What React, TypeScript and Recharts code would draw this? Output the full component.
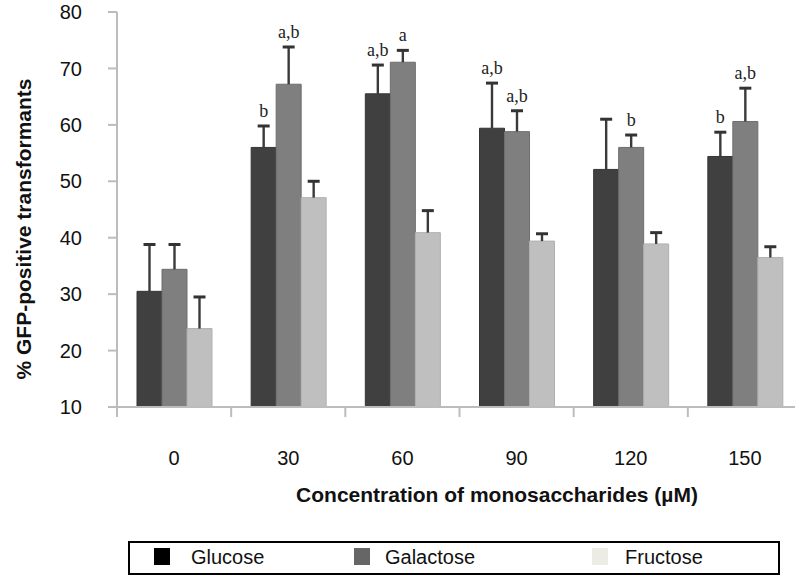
import React from 'react';
import { BarChart, Bar, XAxis, YAxis, LabelList, Label } from 'recharts';

const categories = ['0', '30', '60', '90', '120', '150'];
const glucose = [30.5, 56.0, 65.5, 59.4, 52.1, 54.4];
const glucoseErr = [8.3, 3.8, 5.1, 8.0, 8.9, 4.3];
const galactose = [34.4, 67.2, 71.1, 58.8, 56.0, 60.6];
const galactoseErr = [4.4, 6.6, 2.1, 3.7, 2.2, 5.9];
const fructose = [23.9, 47.1, 40.9, 39.4, 38.9, 36.5];
const fructoseErr = [5.6, 2.9, 3.9, 1.3, 2.0, 1.9];
const glucoseLetters = ['', 'b', 'a,b', 'a,b', '', 'b'];
const galactoseLetters = ['', 'a,b', 'a', 'a,b', 'b', 'a,b'];
const fructoseLetters = ['', '', '', '', '', ''];
const yTicks = [10, 20, 30, 40, 50, 60, 70, 80];
const seriesNames = ['Glucose', 'Galactose', 'Fructose'];

const Y_MIN = 10;
const FONT = '"Liberation Sans", Arial, sans-serif';
const AXIS = '#bcbcbc';
const barColors = ['#404040', '#7f7f7f', '#bfbfbf'];
const legendColors = ['#000000', '#666666', '#ecece4'];

const data = categories.map((c, i) => ({
  conc: c,
  glucose: glucose[i],
  glucoseErr: glucoseErr[i],
  galactose: galactose[i],
  galactoseErr: galactoseErr[i],
  fructose: fructose[i],
  fructoseErr: fructoseErr[i],
}));

// draws the upward error whisker + significance letter above a bar
const errorLabel = (values: number[], letters: string[]) => (props: any) => {
  const x = Number(props.x);
  const y = Number(props.y);
  const width = Number(props.width);
  const height = Number(props.height);
  const err = Number(props.value);
  const i = props.index;
  const pxPerUnit = height / (values[i] - Y_MIN);
  const top = y - err * pxPerUnit;
  const cx = x + width / 2;
  return (
    <g>
      <line x1={cx} x2={cx} y1={y} y2={top} stroke="#3a3a3a" strokeWidth={2.4} />
      <line x1={cx - 6} x2={cx + 6} y1={top} y2={top} stroke="#333" strokeWidth={3} />
      {letters[i] ? (
        <text
          x={cx}
          y={top - 9}
          textAnchor="middle"
          fontFamily='"Liberation Serif", "Times New Roman", serif'
          fontSize={18}
          fill="#222"
        >
          {letters[i]}
        </text>
      ) : null}
    </g>
  );
};

const XTick = (props: any) => {
  const { x, y, payload } = props;
  const half = payload && payload.offset ? payload.offset : 57;
  return (
    <g>
      <line x1={x - half} x2={x - half} y1={y} y2={y + 10} stroke={AXIS} strokeWidth={2} />
      <text x={x} y={y + 58} textAnchor="middle" fontFamily={FONT} fontSize={20} fill="#111">
        {payload.value}
      </text>
    </g>
  );
};

const App = () => {
  return (
    <div
      style={{
        position: 'fixed',
        left: 0,
        top: 0,
        width: 795,
        height: 578,
        overflow: 'hidden',
        background: '#fff',
      }}
    >
      <BarChart
        width={810}
        height={578}
        data={data}
        margin={{ top: 12, right: 8, left: 0, bottom: 131 }}
        barGap={0}
        barSize={25}
      >
        <XAxis
          dataKey="conc"
          height={40}
          tickLine={false}
          tickSize={0}
          tickMargin={0}
          axisLine={{ stroke: AXIS, strokeWidth: 2 }}
          tick={<XTick />}
          interval={0}
        >
          <Label
            content={() => (
              <text
                x={497}
                y={502}
                textAnchor="middle"
                fontFamily={FONT}
                fontWeight="bold"
                fontSize={21}
                fill="#111"
              >
                Concentration of monosaccharides (µM)
              </text>
            )}
          />
        </XAxis>
        <YAxis
          width={117}
          domain={[10, 80]}
          ticks={yTicks}
          interval={0}
          tickSize={9}
          tickMargin={26}
          axisLine={{ stroke: AXIS, strokeWidth: 2 }}
          tickLine={{ stroke: AXIS, strokeWidth: 2 }}
          tick={{ fontFamily: FONT, fontSize: 20, fill: '#111' }}
        >
          <Label
            content={() => (
              <text
                x={23}
                y={229}
                transform="rotate(-90 23 229)"
                textAnchor="middle"
                dominantBaseline="central"
                fontFamily={FONT}
                fontWeight="bold"
                fontSize={21}
                fill="#111"
              >
                % GFP-positive transformants
              </text>
            )}
          />
        </YAxis>
        <Bar dataKey="glucose" name={seriesNames[0]} fill={barColors[0]} stroke="#343434" strokeWidth={1} isAnimationActive={false}>
          <LabelList dataKey="glucoseErr" content={errorLabel(glucose, glucoseLetters)} />
        </Bar>
        <Bar dataKey="galactose" name={seriesNames[1]} fill={barColors[1]} stroke="#6e6e6e" strokeWidth={1} isAnimationActive={false}>
          <LabelList dataKey="galactoseErr" content={errorLabel(galactose, galactoseLetters)} />
        </Bar>
        <Bar dataKey="fructose" name={seriesNames[2]} fill={barColors[2]} stroke="#b0b0b0" strokeWidth={1} isAnimationActive={false}>
          <LabelList dataKey="fructoseErr" content={errorLabel(fructose, fructoseLetters)} />
        </Bar>
      </BarChart>

      {/* legend box */}
      <div
        style={{
          position: 'absolute',
          left: 128,
          top: 541,
          width: 648,
          height: 30,
          border: '2px solid #000',
          fontFamily: FONT,
          fontSize: 20,
          color: '#111',
        }}
      >
        {seriesNames.map((name, i) => {
          const sq = [24, 224, 462][i];
          const tx = [61, 255, 495][i];
          return (
            <React.Fragment key={name}>
              <div
                style={{
                  position: 'absolute',
                  left: sq,
                  top: 5,
                  width: 16,
                  height: 17,
                  background: legendColors[i],
                }}
              />
              <div style={{ position: 'absolute', left: tx, top: 2, lineHeight: '24px' }}>{name}</div>
            </React.Fragment>
          );
        })}
      </div>
    </div>
  );
};

export default App;
